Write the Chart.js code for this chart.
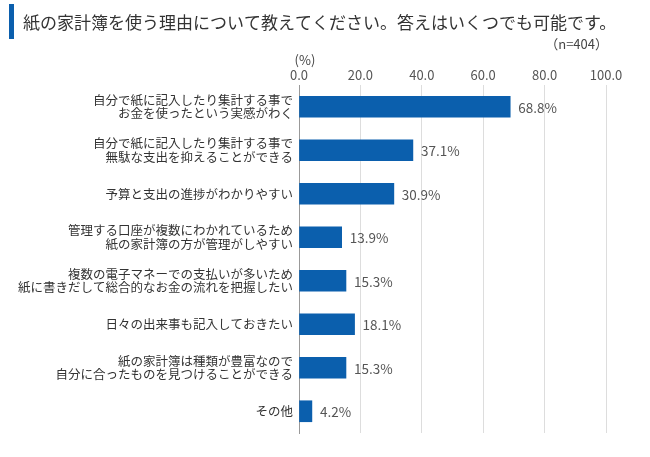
<!DOCTYPE html>
<html>
<head>
<meta charset="utf-8">
<script src="https://cdn.jsdelivr.net/npm/chart.js@4/dist/chart.umd.min.js"></script>
<style>
  html, body { margin: 0; padding: 0; background: #fff; }
  #wrap { width: 650px; height: 457px; }
</style>
</head>
<body>
<div id="wrap"><canvas id="reasons"></canvas></div>
<script>
const titleText = '紙の家計簿を使う理由について教えてください。答えはいくつでも可能です。';
const sampleText = '（n=404）';
const unitText = '(%)';

const categories = [
  ['自分で紙に記入したり集計する事で', 'お金を使ったという実感がわく'],
  ['自分で紙に記入したり集計する事で', '無駄な支出を抑えることができる'],
  '予算と支出の進捗がわかりやすい',
  ['管理する口座が複数にわかれているため', '紙の家計簿の方が管理がしやすい'],
  ['複数の電子マネーでの支払いが多いため', '紙に書きだして総合的なお金の流れを把握したい'],
  '日々の出来事も記入しておきたい',
  ['紙の家計簿は種類が豊富なので', '自分に合ったものを見つけることができる'],
  'その他'
];
const values = [68.8, 37.1, 30.9, 13.9, 15.3, 18.1, 15.3, 4.2];

const FONT = '"Noto Sans CJK JP", "Noto Sans", sans-serif';
const BLUE = '#0b5fad';

// title, sample size, unit and value labels
const decor = {
  id: 'decor',
  beforeDraw(chart) {
    const c = chart.ctx;
    c.save();
    c.fillStyle = '#fff';
    c.fillRect(0, 0, chart.width, chart.height);
    c.restore();
  },
  afterDraw(chart) {
    const c = chart.ctx;
    const area = chart.chartArea;
    c.save();
    c.fillStyle = BLUE;
    c.fillRect(9, 4, 5, 35);

    c.fillStyle = '#333';
    c.font = '17px ' + FONT;
    c.textBaseline = 'middle';
    c.textAlign = 'left';
    c.fillText(titleText, 23, 23);

    c.fillStyle = '#444';
    c.font = '13px ' + FONT;
    c.textAlign = 'right';
    c.fillText(sampleText, 608, 44);

    c.textAlign = 'center';
    c.fillText(unitText, area.left + 6, 60);

    c.fillStyle = '#555';
    c.font = '13.5px ' + FONT;
    c.textAlign = 'left';
    const meta = chart.getDatasetMeta(0);
    meta.data.forEach((bar, i) => {
      c.fillText(values[i].toFixed(1) + '%', bar.x + 8, bar.y + 1);
    });
    c.restore();
  }
};

new Chart(document.getElementById('reasons'), {
  type: 'bar',
  data: {
    labels: categories,
    datasets: [{
      data: values,
      backgroundColor: BLUE,
      borderWidth: 0,
      barThickness: 21
    }]
  },
  options: {
    indexAxis: 'y',
    responsive: true,
    maintainAspectRatio: false,
    animation: false,
    layout: { padding: { top: 55, right: 44, bottom: 24, left: 0 } },
    plugins: {
      legend: { display: false },
      tooltip: { enabled: false }
    },
    scales: {
      x: {
        position: 'top',
        min: 0,
        max: 100,
        ticks: {
          stepSize: 20,
          padding: 2,
          color: '#555',
          font: { family: FONT, size: 13 },
          callback: v => v.toFixed(1)
        },
        grid: { color: '#dddddd', drawTicks: false },
        border: { display: false },
        afterFit(scale) { scale.height = 30; }
      },
      y: {
        ticks: {
          padding: 6,
          color: '#333',
          font: { family: FONT, size: 12.5, lineHeight: 1.1 }
        },
        grid: { display: false, drawTicks: false },
        border: { display: true, color: '#999' },
        afterFit(scale) { scale.width = 299; }
      }
    }
  },
  plugins: [decor]
});
</script>
</body>
</html>
